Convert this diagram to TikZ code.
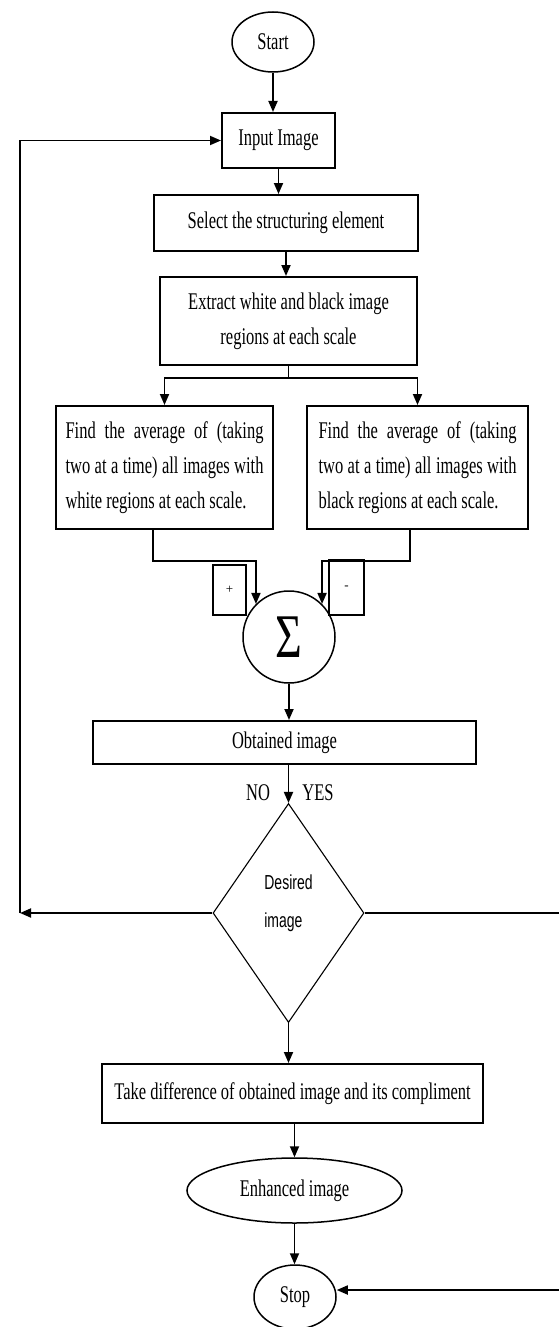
\documentclass[tikz,border=0pt]{standalone}
\usepackage{fontspec}
\usepackage{graphicx}
\setmainfont{Liberation Serif}
\newfontfamily\decfont{Liberation Sans}
\usetikzlibrary{shapes.geometric, arrows.meta}
\newcommand{\vt}[1]{\scalebox{1}[1.45]{#1}}
\newcommand{\jline}[1]{\vt{\makebox[198pt][s]{#1}}}

\begin{document}
\begin{tikzpicture}[x=1pt,y=-1pt,
  box/.style={draw=black, line width=2pt, inner sep=0pt, font=\fontsize{16.5}{35}\selectfont},
  oval/.style={ellipse, draw=black, line width=1.5pt, inner sep=0pt, font=\fontsize{16.5}{20}\selectfont},
  flow/.style={line width=1.8pt, -{Triangle[length=11pt,width=9pt]}},
  wire/.style={line width=1.8pt}]
\clip (0,0) rectangle (559,1327);
\fill[white] (0,0) rectangle (559,1327);
\node[oval, minimum width=82pt, minimum height=60pt] (start) at (273,42) {\vt{Start}};
\node[box, minimum width=113pt, minimum height=55pt] (input) at (278.5,140.5) {\vt{Input Image}};
\node[box, minimum width=264pt, minimum height=56pt] (select) at (286,223) {\vt{Select the structuring element}};
\node[box, minimum width=257pt, minimum height=88pt, align=center] (extract) at (288.5,321) {\vt{Extract white and black image}\\\vt{regions at each scale}};
\node[box, minimum width=217pt, minimum height=123pt, align=left] (findw) at (164.5,467.5) {\jline{Find the average of (taking}\\\jline{two at a time) all images with}\\\vt{white regions at each scale.}};
\node[box, minimum width=221pt, minimum height=123pt, align=left] (findb) at (417.5,467.5) {\jline{Find the average of (taking}\\\jline{two at a time) all images with}\\\vt{black regions at each scale.}};
\node[box, line width=1.5pt, minimum width=33pt, minimum height=50pt, font=\fontsize{13}{13}\selectfont] (plus) at (229.5,590) {+};
\node[box, line width=1.5pt, minimum width=35pt, minimum height=55pt, font=\fontsize{13}{13}\selectfont] (minus) at (346.5,587.5) {-};
\node[circle, draw=black, line width=1.5pt, minimum size=92pt, inner sep=0pt] (sum) at (289,637) {\fontsize{46}{46}\selectfont\scalebox{1}[1.35]{Σ}};
\node[box, minimum width=383pt, minimum height=43pt] (obtained) at (284.5,742.5) {\vt{Obtained image}};
\node[font=\fontsize{16.5}{20}\selectfont] (no) at (258,793) {\vt{NO}};
\node[font=\fontsize{16.5}{20}\selectfont] (yes) at (318,793) {\vt{YES}};
\node[diamond, draw=black, line width=1.1pt, minimum width=151pt, minimum height=219pt, inner sep=0pt, align=left, font=\decfont\fontsize{14}{38}\selectfont] (dec) at (288.5,913) {\vt{Desired}\\\vt{image}\\[-14pt]};
\node[box, minimum width=381pt, minimum height=59pt] (take) at (292.5,1093.5) {\vt{Take difference of obtained image and its compliment}};
\node[oval, minimum width=215pt, minimum height=65pt] (enh) at (294.5,1190.5) {\vt{Enhanced image}};
\node[oval, minimum width=82pt, minimum height=64pt] (stop) at (295,1297) {\vt{Stop}};
\coordinate (fb) at (20,913);
\coordinate (out) at (575,913);
\draw[flow] (start.south) -- (start.south |- input.north);
\draw[flow] (input.south) -- (input.south |- select.north);
\draw[flow] (select.south) -- (select.south |- extract.north);
\draw[wire] (extract.south) -- ++(0,12) coordinate (split);
\draw[flow] (split) -| (findw.north);
\draw[flow] (split) -| (findb.north);
\draw[flow] ([xshift=-11.5pt]findw.south) -- ++(0,31) -| (sum.north west);
\draw[flow] ([xshift=-7.5pt]findb.south) -- ++(0,31) -| (sum.north east);
\draw[flow] (sum.south) -- (sum.south |- obtained.north);
\draw[flow] (dec.north |- obtained.south) -- (dec.north);
\draw[flow] (dec.west) -- (fb);
\draw[flow] (fb) |- (input.west);
\draw[wire] (dec.east) -- (out);
\draw[flow] (out) |- ([yshift=7pt]stop.east);
\draw[flow] (dec.south) -- (dec.south |- take.north);
\draw[flow] (take.south -| enh.north) -- (enh.north);
\draw[flow] (enh.south) -- (enh.south |- stop.north);
\end{tikzpicture}
\end{document}
